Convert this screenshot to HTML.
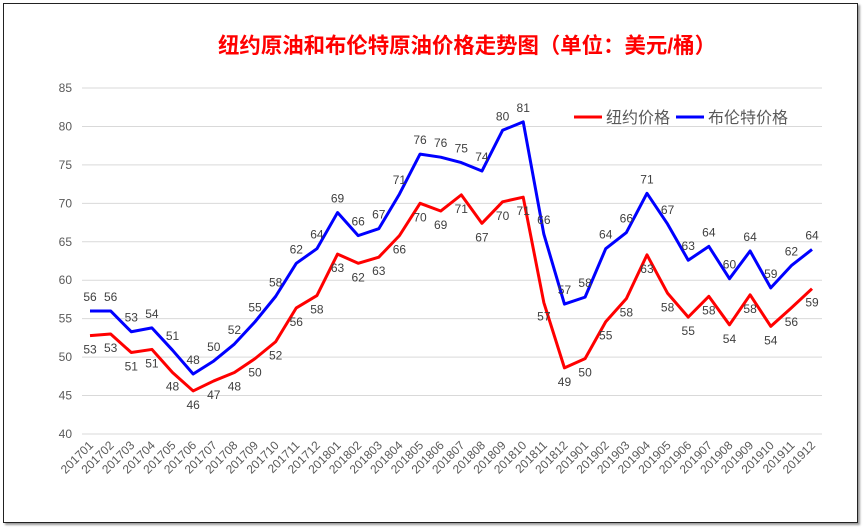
<!DOCTYPE html>
<html><head><meta charset="utf-8"><style>
html,body{margin:0;padding:0;background:#fff;}
body{width:864px;height:528px;overflow:hidden;font-family:"Liberation Sans","Noto Sans CJK SC",sans-serif;}
#frame{position:absolute;left:3px;top:3px;width:853px;height:518px;border:1px solid #222;box-shadow:2px 2px 2px #999;}
</style></head><body>
<div id="frame"></div>
<svg id="chart" width="864" height="528" style="position:absolute;left:0;top:0">
<text x="467" y="53" text-anchor="middle" font-size="21.4" font-weight="bold" fill="#f00">纽约原油和布伦特原油价格走势图（单位：美元/桶）</text>
<g id="grid"></g><g id="lines"></g><g id="labels"></g>
<g>
<line x1="574" y1="117" x2="602" y2="117" stroke="#f00" stroke-width="3"/>
<text x="606" y="123" font-size="16" fill="#595959">纽约价格</text>
<line x1="676" y1="117" x2="704" y2="117" stroke="#00f" stroke-width="3"/>
<text x="708" y="123" font-size="16" fill="#595959">布伦特价格</text>
</g>
</svg>
<script>
const categories=["201701","201702","201703","201704","201705","201706","201707","201708","201709","201710","201711","201712","201801","201802","201803","201804","201805","201806","201807","201808","201809","201810","201811","201812","201901","201902","201903","201904","201905","201906","201907","201908","201909","201910","201911","201912"];
const wti=[52.8,53.0,50.6,51.0,48.0,45.6,46.9,48.0,49.8,52.0,56.4,58.0,63.4,62.2,63.0,65.8,70.0,69.0,71.1,67.4,70.2,70.8,57.1,48.6,49.8,54.6,57.6,63.3,58.3,55.2,57.9,54.2,58.1,54.0,56.4,58.9];
const brent=[56.0,56.0,53.3,53.8,50.9,47.8,49.5,51.7,54.6,57.9,62.2,64.1,68.8,65.8,66.7,71.2,76.4,76.0,75.3,74.2,79.5,80.6,66.0,56.9,57.8,64.1,66.2,71.3,67.3,62.6,64.4,60.2,63.8,59.0,61.9,64.0];
const yTicks=[40,45,50,55,60,65,70,75,80,85];
const NS="http://www.w3.org/2000/svg";
function x(i){return 90+i*(812-90)/(categories.length-1);}
function y(v){return 434-(v-40)*(346/45);}
const grid=document.getElementById('grid'),lines=document.getElementById('lines'),labels=document.getElementById('labels');
function mk(tag,attrs,parent){const e=document.createElementNS(NS,tag);for(const k in attrs)e.setAttribute(k,attrs[k]);parent.appendChild(e);return e;}
yTicks.forEach(t=>{
  const l=mk('line',{x1:82,x2:822,y1:y(t),y2:y(t),stroke:'#d9d9d9','stroke-width':1},grid);
  
  
  const tx=mk('text',{x:72,y:y(t)+4,'text-anchor':'end','font-size':12,fill:'#595959'},grid);
  tx.textContent=t;
  
  
});
categories.forEach((c,i)=>{
  const tx=mk('text',{x:x(i)+4,y:446,'text-anchor':'end','font-size':12,fill:'#595959',transform:`rotate(-45 ${x(i)+4} 446)`},grid);
  tx.textContent=c;
  
  
});
function series(data,color,name,dy){
  const p=mk('polyline',{points:data.map((v,i)=>x(i)+','+y(v)).join(' '),fill:'none',stroke:color,'stroke-width':3,'stroke-linejoin':'round'},lines);
  
  
  data.forEach((v,i)=>{
    const t=mk('text',{x:x(i),y:y(v)+dy,'text-anchor':'middle','font-size':12,fill:'#404040'},labels);
    t.textContent=Math.round(v);
    
    
  });
}
series(wti,'#f00','wti',18);
series(brent,'#00f','brent',-10);
</script>
</body></html>
